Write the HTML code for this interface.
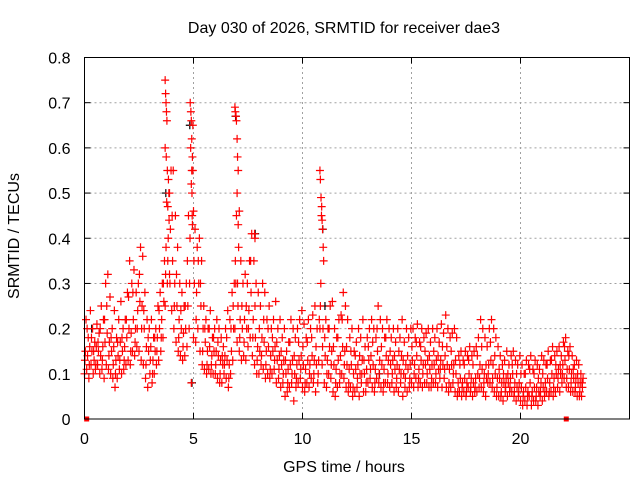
<!DOCTYPE html>
<html><head><meta charset="utf-8"><style>
html,body{margin:0;padding:0;background:#fff;}
svg{display:block;font-family:"Liberation Sans",sans-serif;}
</style></head><body>
<svg id="chart" width="640" height="480" viewBox="0 0 640 480">
<text x="344" y="33" text-anchor="middle" font-size="16" fill="#000">Day 030 of 2026, SRMTID for receiver dae3</text>
<text x="344" y="472" text-anchor="middle" font-size="16" fill="#000">GPS time / hours</text>
<text transform="translate(19,236) rotate(-90)" text-anchor="middle" font-size="16" fill="#000">SRMTID / TECUs</text>
<g id="grid"></g>
<g id="ticks"></g>
<g id="marks"></g>
<rect x="84.5" y="57.5" width="545" height="361.5" fill="none" stroke="#000" stroke-width="1"/>
</svg>
<script>
const xTicks=[0,5,10,15,20];
const yTicks=[0,0.1,0.2,0.3,0.4,0.5,0.6,0.7,0.8];
const yTickLabels=["0","0.1","0.2","0.3","0.4","0.5","0.6","0.7","0.8"];
const hours=[0,0.1,0.2,0.3,0.4,0.5,0.6,0.7,0.8,0.9,1,1.1,1.2,1.3,1.4,1.5,1.6,1.7,1.8,1.9,2,2.1,2.2,2.3,2.4,2.5,2.6,2.7,2.8,2.9,3,3.1,3.2,3.3,3.4,3.5,3.6,3.7,3.8,3.9,4,4.1,4.2,4.3,4.4,4.5,4.6,4.7,4.8,4.9,5,5.1,5.2,5.3,5.4,5.5,5.6,5.7,5.8,5.9,6,6.1,6.2,6.3,6.4,6.5,6.6,6.7,6.8,6.9,7,7.1,7.2,7.3,7.4,7.5,7.6,7.7,7.8,7.9,8,8.1,8.2,8.3,8.4,8.5,8.6,8.7,8.8,8.9,9,9.1,9.2,9.3,9.4,9.5,9.6,9.7,9.8,9.9,10,10.1,10.2,10.3,10.4,10.5,10.6,10.7,10.8,10.9,11,11.1,11.2,11.3,11.4,11.5,11.6,11.7,11.8,11.9,12,12.1,12.2,12.3,12.4,12.5,12.6,12.7,12.8,12.9,13,13.1,13.2,13.3,13.4,13.5,13.6,13.7,13.8,13.9,14,14.1,14.2,14.3,14.4,14.5,14.6,14.7,14.8,14.9,15,15.1,15.2,15.3,15.4,15.5,15.6,15.7,15.8,15.9,16,16.1,16.2,16.3,16.4,16.5,16.6,16.7,16.8,16.9,17,17.1,17.2,17.3,17.4,17.5,17.6,17.7,17.8,17.9,18,18.1,18.2,18.3,18.4,18.5,18.6,18.7,18.8,18.9,19,19.1,19.2,19.3,19.4,19.5,19.6,19.7,19.8,19.9,20,20.1,20.2,20.3,20.4,20.5,20.6,20.7,20.8,20.9,21,21.1,21.2,21.3,21.4,21.5,21.6,21.7,21.8,21.9,22,22.1,22.2,22.3,22.4,22.5,22.6,22.7,22.8];
const srmtidHigh=[.22,.18,.24,.2,.17,.21,.19,.25,.22,.3,
.32,.27,.2,.24,.18,.22,.26,.2,.22,.28,
.35,.3,.33,.28,.3,.38,.36,.28,.22,.2,
.22,.18,.2,.25,.28,.3,.35,.48,.5,.55,
.55,.45,.38,.3,.28,.25,.3,.45,.6,.65,
.42,.38,.4,.35,.25,.22,.2,.24,.18,.2,
.22,.2,.18,.16,.2,.24,.22,.28,.3,.45,
.38,.35,.3,.32,.3,.35,.41,.35,.3,.28,
.25,.3,.28,.22,.25,.2,.22,.26,.2,.22,
.18,.2,.15,.17,.22,.2,.18,.2,.22,.24,
.21,.18,.22,.2,.23,.25,.2,.22,.45,.35,
.22,.2,.25,.26,.2,.18,.22,.23,.28,.25,
.22,.18,.2,.15,.17,.2,.18,.22,.16,.18,
.2,.22,.2,.18,.25,.22,.2,.18,.22,.2,
.18,.2,.17,.2,.18,.22,.17,.2,.18,.2,
.2,.18,.21,.17,.2,.18,.19,.2,.17,.2,
.18,.2,.17,.21,.19,.23,.2,.18,.19,.2,
.18,.14,.15,.13,.15,.14,.16,.14,.15,.16,
.18,.22,.2,.18,.16,.2,.22,.2,.18,.16,
.14,.12,.13,.15,.12,.14,.15,.13,.12,.14,
.12,.1,.13,.12,.14,.11,.13,.12,.11,.14,
.13,.12,.15,.13,.16,.14,.15,.16,.14,.17,
.18,.15,.16,.14,.12,.13,.12,.1,.09];
const srmtidMid=[.15,.14,.16,.15,.13,.16,.15,.14,.16,.17,
.19,.17,.15,.16,.13,.14,.17,.15,.16,.18,
.2,.19,.22,.2,.24,.26,.25,.2,.16,.15,
.16,.13,.15,.18,.2,.22,.26,.38,.4,.42,
.35,.3,.25,.22,.2,.19,.2,.25,.4,.45,
.3,.28,.3,.25,.2,.17,.15,.16,.14,.15,
.15,.14,.13,.12,.14,.13,.12,.15,.2,.3,
.25,.22,.2,.22,.2,.24,.28,.22,.18,.16,
.15,.18,.17,.15,.16,.14,.15,.16,.13,.14,
.12,.13,.1,.11,.12,.13,.1,.12,.13,.14,
.12,.11,.13,.12,.14,.13,.12,.13,.3,.2,
.14,.13,.16,.15,.12,.11,.13,.14,.16,.15,
.12,.11,.12,.1,.11,.12,.1,.13,.1,.11,
.13,.14,.12,.11,.15,.13,.12,.11,.14,.13,
.12,.13,.11,.12,.11,.14,.1,.12,.11,.12,
.13,.12,.14,.11,.13,.12,.12,.13,.11,.12,
.12,.13,.11,.13,.12,.14,.12,.11,.12,.12,
.1,.08,.09,.08,.09,.08,.1,.09,.08,.09,
.1,.12,.11,.1,.09,.12,.13,.12,.1,.09,
.09,.08,.08,.09,.08,.09,.1,.08,.07,.08,
.07,.06,.07,.06,.08,.06,.07,.07,.06,.08,
.07,.08,.09,.08,.1,.09,.1,.11,.1,.12,
.13,.11,.11,.1,.09,.09,.08,.08,.07];
const srmtidLow=[.1,.11,.09,.12,.1,.11,.12,.1,.11,.09,
.12,.11,.1,.09,.07,.09,.11,.1,.11,.12,
.13,.12,.15,.14,.16,.15,.13,.12,.09,.07,
.1,.08,.1,.12,.13,.15,.18,.25,.3,.32,
.24,.2,.17,.15,.14,.13,.14,.16,.2,.08,
.18,.17,.2,.15,.12,.11,.1,.11,.1,.1,
.1,.09,.08,.08,.1,.09,.07,.1,.13,.2,
.17,.15,.13,.14,.13,.16,.18,.14,.12,.1,
.1,.12,.11,.09,.1,.09,.1,.11,.08,.09,
.07,.08,.05,.06,.07,.08,.04,.07,.08,.09,
.07,.06,.08,.07,.09,.08,.06,.08,.2,.12,
.08,.07,.1,.09,.06,.05,.07,.08,.1,.09,
.07,.06,.07,.05,.06,.07,.05,.08,.06,.06,
.08,.09,.07,.06,.09,.08,.07,.06,.08,.08,
.07,.08,.06,.07,.06,.08,.05,.07,.06,.07,
.08,.07,.09,.07,.08,.07,.08,.08,.07,.07,
.08,.08,.07,.09,.07,.09,.07,.06,.07,.08,
.06,.05,.06,.05,.06,.05,.07,.06,.05,.06,
.06,.07,.07,.06,.05,.08,.08,.07,.06,.05,
.05,.05,.04,.06,.05,.06,.06,.05,.04,.05,
.04,.03,.04,.03,.05,.03,.04,.04,.03,.05,
.04,.05,.06,.05,.06,.05,.06,.07,.06,.08,
.09,.07,.07,.06,.06,.06,.05,.05,.05];
const srmtidExtra=[.13,.2,.12,.18,.15,.12,.17,.2,.13,.22,
.25,.14,.18,.12,.1,.17,.13,.18,.13,.22,
.27,.15,.28,.17,.2,.32,.2,.24,.12,.18,
.13,.1,.18,.15,.24,.18,.3,.32,.35,.3,
.45,.25,.32,.18,.24,.16,.25,.35,.3,.55,
.35,.22,.35,.3,.15,.2,.12,.2,.12,.18,
.12,.17,.1,.14,.12,.18,.09,.2,.25,.35,
.3,.18,.25,.17,.25,.2,.35,.18,.25,.13,
.2,.14,.22,.12,.2,.11,.18,.13,.17,.11,
.15,.1,.13,.08,.17,.1,.14,.09,.17,.11,
.16,.08,.17,.1,.18,.1,.16,.1,.25,.16,
.18,.1,.2,.12,.16,.08,.18,.1,.22,.12,
.16,.08,.15,.07,.14,.09,.14,.1,.13,.08,
.16,.11,.17,.08,.2,.1,.16,.08,.18,.1,
.15,.1,.14,.09,.15,.1,.13,.09,.14,.09,
.16,.1,.17,.09,.16,.1,.15,.1,.14,.09,
.15,.1,.14,.11,.16,.11,.16,.08,.15,.1,
.13,.06,.12,.07,.12,.06,.13,.07,.12,.07,
.14,.09,.16,.08,.12,.1,.17,.09,.14,.07,
.11,.06,.1,.07,.1,.07,.12,.06,.1,.06,
.1,.05,.1,.05,.11,.05,.1,.05,.09,.06,
.1,.06,.12,.06,.13,.07,.12,.09,.12,.1,
.16,.09,.14,.08,.11,.07,.1,.06,.08];
const spikeHours=[3.7,3.72,3.74,3.76,3.78,3.7,3.75,3.8,3.85,3.9,3.82,3.88,4.85,4.88,4.9,4.92,4.95,4.97,4.9,4.93,5.0,4.95,6.9,6.92,6.95,6.97,7.0,7.02,7.05,7.0,7.1,7.05,10.8,10.82,10.85,10.88,10.9,10.92,10.95,7.8,7.82];
const spikeValues=[.75,.72,.7,.68,.66,.6,.58,.55,.53,.5,.47,.44,.7,.68,.66,.62,.58,.55,.52,.5,.46,.43,.69,.68,.67,.66,.62,.58,.55,.5,.46,.43,.55,.53,.49,.47,.44,.42,.38,.41,.4];
const blackHours=[3.7,4.8,6.9,7.8,4.9,10.9,11.0,0.3,13.5];
const blackValues=[.5,.65,.67,.41,.08,.42,.25,.2,.1];
const zeroHours=[0.1,22.1];
const zeroValues=[0,0];

const X0=84.5,X1=629.5,Y0=419,Y1=57.5,XMAX=25,YMAX=0.8;
function xs(h){return X0+(h/XMAX)*(X1-X0);}
function ys(v){return Y0-(v/YMAX)*(Y0-Y1);}
const NS="http://www.w3.org/2000/svg";
const grid=document.getElementById('grid'),ticks=document.getElementById('ticks'),marks=document.getElementById('marks');
function mk(tag,attrs,parent){const e=document.createElementNS(NS,tag);for(const k in attrs)e.setAttribute(k,attrs[k]);parent.appendChild(e);return e;}
xTicks.forEach(t=>{
  const x=xs(t);
  if(t>0){const g=mk('line',{x1:x,y1:Y0,x2:x,y2:Y1,stroke:'#a0a0a0','stroke-dasharray':'2,3'},grid);
  
  }
  mk('line',{x1:x,y1:Y0,x2:x,y2:Y0-6,stroke:'#000'},ticks);
  mk('line',{x1:x,y1:Y1,x2:x,y2:Y1+6,stroke:'#000'},ticks);
  const l=mk('text',{x:x,y:Y0+25,'text-anchor':'middle','font-size':'16'},ticks);
  l.textContent=String(t);
  
  
});
yTicks.forEach((t,i)=>{
  const y=ys(t);
  if(t>0&&t<YMAX){const g=mk('line',{x1:X0,y1:y,x2:X1,y2:y,stroke:'#a0a0a0','stroke-dasharray':'2,3'},grid);
  
  }
  mk('line',{x1:X0,y1:y,x2:X0+6,y2:y,stroke:'#000'},ticks);
  mk('line',{x1:X1,y1:y,x2:X1-6,y2:y,stroke:'#000'},ticks);
  const l=mk('text',{x:X0-14,y:y+6,'text-anchor':'end','font-size':'16'},ticks);
  l.textContent=yTickLabels[i];
  
  
});
function plus(h,v,color,name){
  const x=xs(h),y=ys(v);
  const p=mk('path',{d:`M${x-4},${y}H${x+4}M${x},${y-4}V${y+4}`,stroke:color,'stroke-width':'1.2',fill:'none'},marks);
  
  
}
blackHours.forEach((h,i)=>plus(h+0.03,blackValues[i],'#000','black-point'));
hours.forEach((h,i)=>{
  plus(h,srmtidLow[i],'#f00','srmtid-point');
  plus(h+0.04,srmtidMid[i],'#f00','srmtid-point');
  plus(h+0.07,srmtidHigh[i],'#f00','srmtid-point');
  plus(h+0.02,srmtidExtra[i],'#f00','srmtid-point');
});
spikeHours.forEach((h,i)=>plus(h,spikeValues[i],'#f00','srmtid-spike-point'));
zeroHours.forEach((h,i)=>{
  const s=mk('rect',{x:xs(h)-2.5,y:ys(zeroValues[i])-2.5,width:5,height:5,fill:'#f00'},marks);
  
  
});
</script>
</body></html>
